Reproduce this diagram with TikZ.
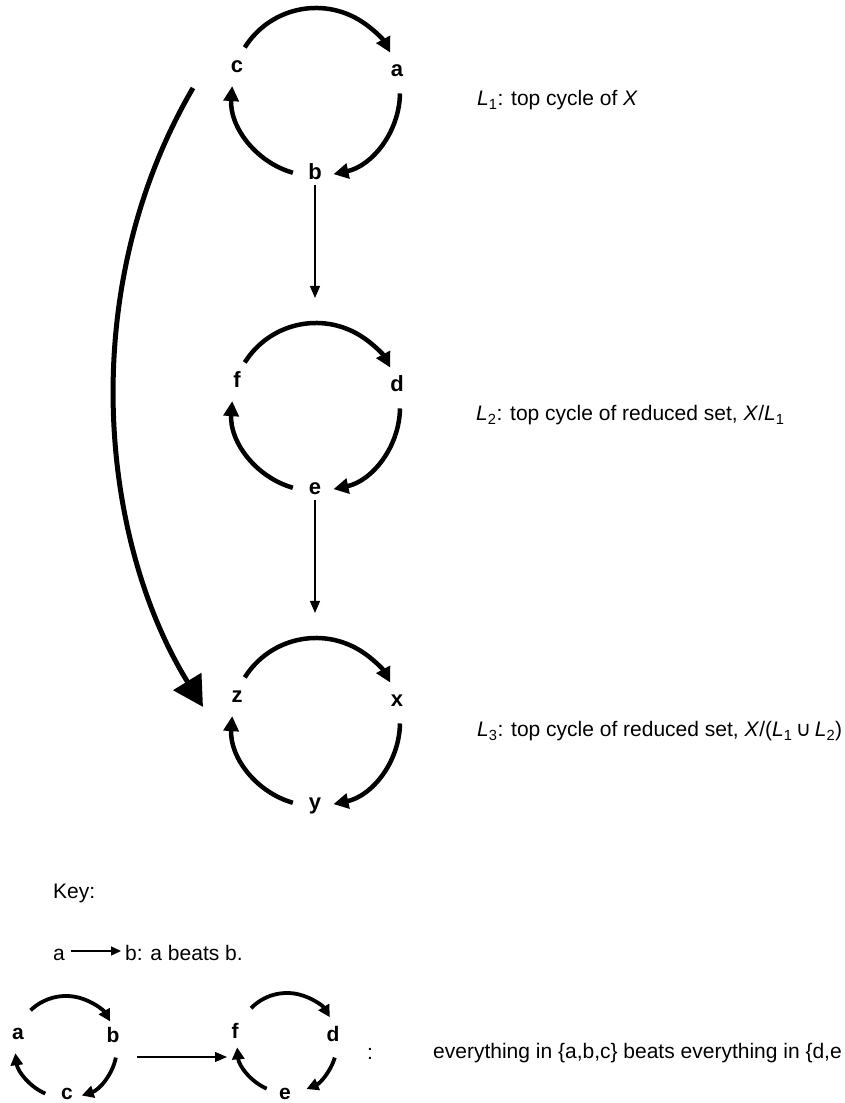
\documentclass[tikz,border=0pt]{standalone}
\usepackage{fontspec}
\setmainfont{Liberation Sans}
\newfontfamily\djv{DejaVu Sans}
\usetikzlibrary{arrows.meta,calc}
\begin{document}
\begin{tikzpicture}[x=1pt,y=1pt,
  cyc/.style={line width=4.5pt,-{Triangle[length=15pt,width=15pt]}},
  kcyc/.style={line width=3.8pt,-{Triangle[length=12pt,width=12pt]}},
  thinarr/.style={line width=1.3pt,-{Triangle[length=12pt,width=10pt]}},
  kthin/.style={line width=1.3pt,-{Triangle[length=10pt,width=9pt]}},
  bigarr/.style={line width=5pt,-{Triangle[length=30pt,width=32pt]}},
  lab/.style={font=\fontsize{22}{22}\selectfont\bfseries,inner sep=0pt,anchor=base},
  klab/.style={font=\fontsize{21}{21}\selectfont\bfseries,inner sep=0pt,anchor=base},
  txt/.style={font=\fontsize{21}{21}\selectfont,inner sep=0pt,anchor=base west},
]
\useasboundingbox (0,0) rectangle (844,1103);

% main cycles
\foreach \cy/\L/\R/\B/\i in {1011/c/a/b/1, 696/f/d/e/2, 381/z/x/y/3} {
  \coordinate (O\i) at (316,\cy);
  \node[lab] (\L\i) at (237,\cy+19) {\L};
  \node[lab] (\R\i) at (397,\cy+15) {\R};
  \node[lab] (\B\i) at (315,\cy-88) {\B};
  \draw[cyc] ($(O\i)+(148:84)$) arc[start angle=148,end angle=28,radius=84];
  \draw[cyc] ($(O\i)+(-1:84)$) arc[start angle=-1,end angle=-78,radius=84];
  \draw[cyc] ($(O\i)+(254:84)$) arc[start angle=254,end angle=176,radius=84];
}

% thin arrows between cycles
\coordinate (T2) at (315,805);
\coordinate (T3) at (315,490);
\draw[thinarr, shorten <=5pt] (b1.south) -- (T2);
\draw[thinarr, shorten <=5pt] (e2.south) -- (T3);

% big curved arrow
\coordinate (BS) at (193,1015);
\coordinate (BE) at (203,396);
\draw[bigarr] (BS) .. controls (75,813) and (100,563) .. (BE);

% descriptions
\node[txt] (t1) at (477,997) {\textit{L}\textsubscript{1}: top cycle of \textit{X}};
\node[txt] (t2) at (476,682) {\textit{L}\textsubscript{2}: top cycle of reduced set, \textit{X}/\textit{L}\textsubscript{1}};
\node[txt] (t3) at (477,366) {\textit{L}\textsubscript{3}: top cycle of reduced set, \textit{X}/(\textit{L}\textsubscript{1}{\djv\,∪\,}\textit{L}\textsubscript{2})};

% key
\node[txt] (key) at (53,204) {Key:};
\node[txt] (ka) at (53,142) {a};
\node[txt] (kb) at (125,142) {b: a beats b.};
\draw[kthin] ([shift={(6,10)}]ka.base east) -- ([shift={(-4,10)}]kb.base west);

% key cycle 1
\coordinate (K1) at (66,56);
\node[klab] (ka1) at (18,63) {a};
\node[klab] (kb1) at (113,60) {b};
\node[klab] (kc1) at (67,3) {c};
\draw[kcyc] ($(K1)+(134:51)$) arc[start angle=134,end angle=30,radius=51];
\draw[kcyc] ($(K1)+(-12:51)$) arc[start angle=-12,end angle=-72,radius=51];
\draw[kcyc] ($(K1)+(246:51)$) arc[start angle=246,end angle=187,radius=51];

% key cycle 2
\coordinate (K2) at (287,60);
\node[klab] (kf2) at (235,64) {f};
\node[klab] (kd2) at (333,61) {d};
\node[klab] (ke2) at (285,4) {e};
\draw[kcyc] ($(K2)+(136:50)$) arc[start angle=136,end angle=31,radius=50];
\draw[kcyc] ($(K2)+(-17:50)$) arc[start angle=-17,end angle=-67,radius=50];
\draw[kcyc] ($(K2)+(246:50)$) arc[start angle=246,end angle=185,radius=50];

\draw[thinarr] ($(kb1.base)+(24,-14)$) -- ($(kf2.base)+(-8,-18)$);

\node[txt] (colon) at (367,43) {:};
\node[txt] (every) at (433,44) {everything in \{a,b,c\} beats everything in \{d,e};
\end{tikzpicture}
\end{document}
